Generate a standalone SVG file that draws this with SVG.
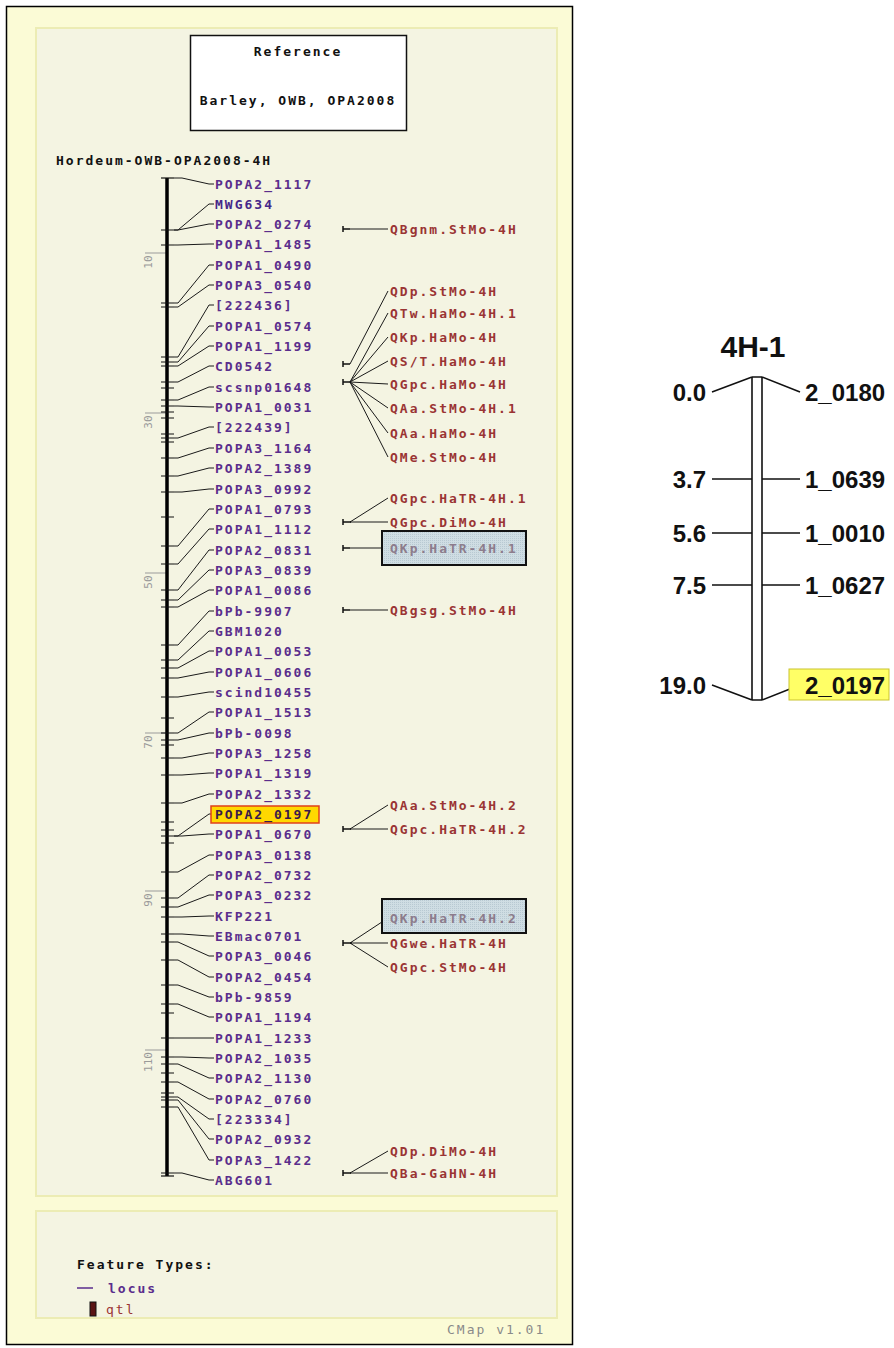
<svg xmlns="http://www.w3.org/2000/svg" width="894" height="1348" viewBox="0 0 894 1348">
<style>
.t{font-family:"DejaVu Sans Mono","Liberation Mono",monospace;font-size:13px;font-weight:bold;letter-spacing:2px}
.loc{fill:#5a2d8c}
.qtl{fill:#9a3434}
.blk{fill:#111}
.gry{fill:#8a8a8a;font-weight:normal}
.hl{fill:#8c7c8c}
.c{stroke:#1a1a1a;stroke-width:1;fill:none}
.tk{stroke:#111;stroke-width:1.2}
.sc{stroke:#9a9a9a;stroke-width:1}
.sct{font-family:"DejaVu Sans Mono",monospace;font-size:11px;fill:#9a9a9a}
.rl{font-family:"Liberation Sans",Arial,sans-serif;font-size:24px;font-weight:bold;fill:#111}
.rln{stroke:#111;stroke-width:1.6;fill:none}
</style>
<defs>
<pattern id="dither" width="2" height="2" patternUnits="userSpaceOnUse">
<rect width="2" height="2" fill="#cfdde3"/><rect width="1" height="1" fill="#b8c9d2"/>
</pattern>
</defs>
<rect x="0" y="0" width="894" height="1348" fill="#ffffff"/>
<!-- left panel -->
<g id="panel">
<rect x="6.5" y="6.5" width="566" height="1338" fill="#fbfbd6" stroke="#000" stroke-width="1.5"/>
<rect x="36" y="28" width="521" height="1168" fill="#f4f4e2" stroke="#ececb4" stroke-width="2"/>
<rect x="36" y="1211" width="521" height="107" fill="#f4f4e2" stroke="#ececb4" stroke-width="2"/>
</g>
<g id="reference-box">
<rect x="190.5" y="35.5" width="216" height="95" fill="#fff" stroke="#111" stroke-width="1.5"/>
<text class="t blk" x="298" y="56" text-anchor="middle">Reference</text>
<text class="t blk" x="298" y="105" text-anchor="middle">Barley, OWB, OPA2008</text>
</g>
<g id="map-title"><text class="t blk" x="56" y="165">Hordeum-OWB-OPA2008-4H</text></g>
<!-- scale -->
<g id="scale">
<line class="sc" x1="145" y1="253" x2="166" y2="253"/>
<line class="sc" x1="145" y1="413" x2="166" y2="413"/>
<line class="sc" x1="145" y1="573" x2="166" y2="573"/>
<line class="sc" x1="145" y1="733" x2="166" y2="733"/>
<line class="sc" x1="145" y1="891" x2="166" y2="891"/>
<line class="sc" x1="145" y1="1050" x2="166" y2="1050"/>
<text class="sct" transform="translate(152,262) rotate(-90)" text-anchor="middle">10</text>
<text class="sct" transform="translate(152,422) rotate(-90)" text-anchor="middle">30</text>
<text class="sct" transform="translate(152,582) rotate(-90)" text-anchor="middle">50</text>
<text class="sct" transform="translate(152,742) rotate(-90)" text-anchor="middle">70</text>
<text class="sct" transform="translate(152,900) rotate(-90)" text-anchor="middle">90</text>
<text class="sct" transform="translate(152,1062) rotate(-90)" text-anchor="middle">110</text>
</g>
<!-- chromosome bar -->
<g id="chromosome">
<line x1="167" y1="178" x2="167" y2="1176" stroke="#000" stroke-width="3.5"/>
<line class="tk" x1="161" y1="178" x2="174" y2="178"/>
<line class="tk" x1="161" y1="1176" x2="174" y2="1176"/>
<path class="tk" fill="none" d="M161,230H174M161,245H174M161,303H174M161,307H174M161,357H174M161,362H174M161,366H174M161,382H174M161,388H174M161,400H174M161,406H174M161,412H174M161,418H174M161,434H174M161,438H174M161,442H174M161,458H174M161,476H174M161,492H174M161,517H174M161,546H174M161,564H174M161,590H174M161,600H174M161,607H174M161,645H174M161,660H174M161,668H174M161,678H174M161,697H174M161,718H174M161,733H174M161,740H174M161,745H174M161,758H174M161,775H174M161,803H174M161,822H174M161,830H174M161,836H174M161,843H174M161,872H174M161,898H174M161,907H174M161,917H174M161,934H174M161,942H174M161,960H174M161,985H174M161,1004H174M161,1013H174M161,1038H174M161,1057H174M161,1064H174M161,1073H174M161,1082H174M161,1093H174M161,1097H174M161,1100H174M161,1107H174M161,1173H174"/>
</g>
<!-- connectors -->
<g id="connectors">
<path class="c" d="M174,178L182,178L209,184L214,184"/>
<path class="c" d="M174,230L178,230L209,204L214,204"/>
<path class="c" d="M174,230L178,230L209,224L214,224"/>
<path class="c" d="M174,245L178,245L209,244L214,244"/>
<path class="c" d="M174,303L178,303L209,265L214,265"/>
<path class="c" d="M174,307L178,307L209,285L214,285"/>
<path class="c" d="M174,357L178,357L209,305L214,305"/>
<path class="c" d="M174,362L178,362L209,326L214,326"/>
<path class="c" d="M174,366L178,366L209,346L214,346"/>
<path class="c" d="M174,382L178,382L209,366L214,366"/>
<path class="c" d="M174,400L178,400L209,387L214,387"/>
<path class="c" d="M174,406L178,406L209,407L214,407"/>
<path class="c" d="M174,438L178,438L209,427L214,427"/>
<path class="c" d="M174,458L178,458L209,448L214,448"/>
<path class="c" d="M174,476L178,476L209,468L214,468"/>
<path class="c" d="M174,492L182,492L209,489L214,489"/>
<path class="c" d="M174,546L178,546L209,509L214,509"/>
<path class="c" d="M174,564L178,564L209,529L214,529"/>
<path class="c" d="M174,590L178,590L209,550L214,550"/>
<path class="c" d="M174,600L178,600L209,570L214,570"/>
<path class="c" d="M174,607L178,607L209,590L214,590"/>
<path class="c" d="M174,645L178,645L209,611L214,611"/>
<path class="c" d="M174,660L178,660L209,631L214,631"/>
<path class="c" d="M174,668L178,668L209,651L214,651"/>
<path class="c" d="M174,678L178,678L209,672L214,672"/>
<path class="c" d="M174,697L178,697L209,692L214,692"/>
<path class="c" d="M174,733L178,733L209,712L214,712"/>
<path class="c" d="M174,740L178,740L209,733L214,733"/>
<path class="c" d="M174,758L182,758L209,753L214,753"/>
<path class="c" d="M174,775L182,775L209,773L214,773"/>
<path class="c" d="M174,803L182,803L209,794L214,794"/>
<path class="c" d="M174,836L178,836L209,814L214,814"/>
<path class="c" d="M174,836L182,836L209,834L214,834"/>
<path class="c" d="M174,872L178,872L209,855L214,855"/>
<path class="c" d="M174,898L178,898L209,875L214,875"/>
<path class="c" d="M174,907L178,907L209,895L214,895"/>
<path class="c" d="M174,917L182,917L209,916L214,916"/>
<path class="c" d="M174,934L182,934L209,936L214,936"/>
<path class="c" d="M174,942L178,942L209,956L214,956"/>
<path class="c" d="M174,960L178,960L209,977L214,977"/>
<path class="c" d="M174,985L178,985L209,997L214,997"/>
<path class="c" d="M174,1004L178,1004L209,1017L214,1017"/>
<path class="c" d="M174,1038L182,1038L209,1038L214,1038"/>
<path class="c" d="M174,1057L182,1057L209,1058L214,1058"/>
<path class="c" d="M174,1064L178,1064L209,1078L214,1078"/>
<path class="c" d="M174,1082L178,1082L209,1099L214,1099"/>
<path class="c" d="M174,1097L178,1097L209,1119L214,1119"/>
<path class="c" d="M174,1100L178,1100L209,1139L214,1139"/>
<path class="c" d="M174,1107L178,1107L209,1160L214,1160"/>
<path class="c" d="M174,1173L182,1173L209,1180L214,1180"/>
<!-- qtl connectors -->
<path class="c" d="M350,229L388,229"/>
<path class="c" d="M350,364L388,291"/>
<path class="c" d="M350,382L388,313"/>
<path class="c" d="M350,382L388,337"/>
<path class="c" d="M350,382L388,361"/>
<path class="c" d="M350,382L388,384"/>
<path class="c" d="M350,382L388,408"/>
<path class="c" d="M350,382L388,433"/>
<path class="c" d="M350,382L388,457"/>
<path class="c" d="M350,522L388,498"/>
<path class="c" d="M350,522L388,522"/>
<path class="c" d="M350,548L388,548"/>
<path class="c" d="M350,610L388,610"/>
<path class="c" d="M350,829L388,805"/>
<path class="c" d="M350,829L388,829"/>
<path class="c" d="M350,943L388,918"/>
<path class="c" d="M350,943L388,943"/>
<path class="c" d="M350,943L388,967"/>
<path class="c" d="M350,1173L388,1151"/>
<path class="c" d="M350,1173L388,1173"/>
<!-- qtl markers -->
<path stroke="#111" stroke-width="1.5" fill="none" d="M343,226v6M343,229H350M343,361v6M343,364H350M343,379v6M343,382H351M343,519v6M343,522H351M343,545v6M343,548H350M343,607v6M343,610H350M343,826v6M343,829H351M343,940v6M343,943H352M343,1170v6M343,1173H351"/>
</g>
<!-- loci -->
<g id="locus-POPA2_1117"><text class="t loc" x="215" y="189">POPA2_1117</text></g>
<g id="locus-MWG634"><text class="t" fill="#46278a" x="215" y="209">MWG634</text></g>
<g id="locus-POPA2_0274"><text class="t loc" x="215" y="229">POPA2_0274</text></g>
<g id="locus-POPA1_1485"><text class="t loc" x="215" y="249">POPA1_1485</text></g>
<g id="locus-POPA1_0490"><text class="t loc" x="215" y="270">POPA1_0490</text></g>
<g id="locus-POPA3_0540"><text class="t loc" x="215" y="290">POPA3_0540</text></g>
<g id="locus-222436"><text class="t loc" x="215" y="310">[222436]</text></g>
<g id="locus-POPA1_0574"><text class="t loc" x="215" y="331">POPA1_0574</text></g>
<g id="locus-POPA1_1199"><text class="t loc" x="215" y="351">POPA1_1199</text></g>
<g id="locus-CD0542"><text class="t loc" x="215" y="371">CD0542</text></g>
<g id="locus-scsnp01648"><text class="t loc" x="215" y="392">scsnp01648</text></g>
<g id="locus-POPA1_0031"><text class="t loc" x="215" y="412">POPA1_0031</text></g>
<g id="locus-222439"><text class="t loc" x="215" y="432">[222439]</text></g>
<g id="locus-POPA3_1164"><text class="t loc" x="215" y="453">POPA3_1164</text></g>
<g id="locus-POPA2_1389"><text class="t loc" x="215" y="473">POPA2_1389</text></g>
<g id="locus-POPA3_0992"><text class="t loc" x="215" y="494">POPA3_0992</text></g>
<g id="locus-POPA1_0793"><text class="t loc" x="215" y="514">POPA1_0793</text></g>
<g id="locus-POPA1_1112"><text class="t loc" x="215" y="534">POPA1_1112</text></g>
<g id="locus-POPA2_0831"><text class="t loc" x="215" y="555">POPA2_0831</text></g>
<g id="locus-POPA3_0839"><text class="t loc" x="215" y="575">POPA3_0839</text></g>
<g id="locus-POPA1_0086"><text class="t loc" x="215" y="595">POPA1_0086</text></g>
<g id="locus-bPb-9907"><text class="t loc" x="215" y="616">bPb-9907</text></g>
<g id="locus-GBM1020"><text class="t loc" x="215" y="636">GBM1020</text></g>
<g id="locus-POPA1_0053"><text class="t loc" x="215" y="656">POPA1_0053</text></g>
<g id="locus-POPA1_0606"><text class="t loc" x="215" y="677">POPA1_0606</text></g>
<g id="locus-scind10455"><text class="t loc" x="215" y="697">scind10455</text></g>
<g id="locus-POPA1_1513"><text class="t loc" x="215" y="717">POPA1_1513</text></g>
<g id="locus-bPb-0098"><text class="t loc" x="215" y="738">bPb-0098</text></g>
<g id="locus-POPA3_1258"><text class="t loc" x="215" y="758">POPA3_1258</text></g>
<g id="locus-POPA1_1319"><text class="t loc" x="215" y="778">POPA1_1319</text></g>
<g id="locus-POPA2_1332"><text class="t loc" x="215" y="799">POPA2_1332</text></g>
<g id="locus-POPA2_0197"><rect x="211" y="806" width="108" height="17" fill="#ffd800" stroke="#e0401a" stroke-width="1.5"/><text class="t" fill="#3a1a4a" x="215" y="819">POPA2_0197</text></g>
<g id="locus-POPA1_0670"><text class="t loc" x="215" y="839">POPA1_0670</text></g>
<g id="locus-POPA3_0138"><text class="t loc" x="215" y="860">POPA3_0138</text></g>
<g id="locus-POPA2_0732"><text class="t loc" x="215" y="880">POPA2_0732</text></g>
<g id="locus-POPA3_0232"><text class="t loc" x="215" y="900">POPA3_0232</text></g>
<g id="locus-KFP221"><text class="t loc" x="215" y="921">KFP221</text></g>
<g id="locus-EBmac0701"><text class="t loc" x="215" y="941">EBmac0701</text></g>
<g id="locus-POPA3_0046"><text class="t loc" x="215" y="961">POPA3_0046</text></g>
<g id="locus-POPA2_0454"><text class="t loc" x="215" y="982">POPA2_0454</text></g>
<g id="locus-bPb-9859"><text class="t loc" x="215" y="1002">bPb-9859</text></g>
<g id="locus-POPA1_1194"><text class="t loc" x="215" y="1022">POPA1_1194</text></g>
<g id="locus-POPA1_1233"><text class="t loc" x="215" y="1043">POPA1_1233</text></g>
<g id="locus-POPA2_1035"><text class="t loc" x="215" y="1063">POPA2_1035</text></g>
<g id="locus-POPA2_1130"><text class="t loc" x="215" y="1083">POPA2_1130</text></g>
<g id="locus-POPA2_0760"><text class="t loc" x="215" y="1104">POPA2_0760</text></g>
<g id="locus-223334"><text class="t loc" x="215" y="1124">[223334]</text></g>
<g id="locus-POPA2_0932"><text class="t loc" x="215" y="1144">POPA2_0932</text></g>
<g id="locus-POPA3_1422"><text class="t loc" x="215" y="1165">POPA3_1422</text></g>
<g id="locus-ABG601"><text class="t loc" x="215" y="1185">ABG601</text></g>
<!-- qtls -->
<g id="qtl-QBgnm.StMo-4H"><text class="t qtl" x="390" y="234">QBgnm.StMo-4H</text></g>
<g id="qtl-QDp.StMo-4H"><text class="t qtl" x="390" y="296">QDp.StMo-4H</text></g>
<g id="qtl-QTw.HaMo-4H.1"><text class="t qtl" x="390" y="318">QTw.HaMo-4H.1</text></g>
<g id="qtl-QKp.HaMo-4H"><text class="t qtl" x="390" y="342">QKp.HaMo-4H</text></g>
<g id="qtl-QS-T.HaMo-4H"><text class="t qtl" x="390" y="366">QS/T.HaMo-4H</text></g>
<g id="qtl-QGpc.HaMo-4H"><text class="t qtl" x="390" y="389">QGpc.HaMo-4H</text></g>
<g id="qtl-QAa.StMo-4H.1"><text class="t qtl" x="390" y="413">QAa.StMo-4H.1</text></g>
<g id="qtl-QAa.HaMo-4H"><text class="t qtl" x="390" y="438">QAa.HaMo-4H</text></g>
<g id="qtl-QMe.StMo-4H"><text class="t qtl" x="390" y="462">QMe.StMo-4H</text></g>
<g id="qtl-QGpc.HaTR-4H.1"><text class="t qtl" x="390" y="503">QGpc.HaTR-4H.1</text></g>
<g id="qtl-QGpc.DiMo-4H"><text class="t qtl" x="390" y="527">QGpc.DiMo-4H</text></g>
<g id="qtl-QKp.HaTR-4H.1"><rect x="382" y="531" width="144" height="34" fill="url(#dither)" stroke="#111" stroke-width="2"/><text class="t hl" x="390" y="553">QKp.HaTR-4H.1</text></g>
<g id="qtl-QBgsg.StMo-4H"><text class="t qtl" x="390" y="615">QBgsg.StMo-4H</text></g>
<g id="qtl-QAa.StMo-4H.2"><text class="t qtl" x="390" y="810">QAa.StMo-4H.2</text></g>
<g id="qtl-QGpc.HaTR-4H.2"><text class="t qtl" x="390" y="834">QGpc.HaTR-4H.2</text></g>
<g id="qtl-QKp.HaTR-4H.2"><rect x="382" y="899" width="144" height="34" fill="url(#dither)" stroke="#111" stroke-width="2"/><text class="t hl" x="390" y="923">QKp.HaTR-4H.2</text></g>
<g id="qtl-QGwe.HaTR-4H"><text class="t qtl" x="390" y="948">QGwe.HaTR-4H</text></g>
<g id="qtl-QGpc.StMo-4H"><text class="t qtl" x="390" y="972">QGpc.StMo-4H</text></g>
<g id="qtl-QDp.DiMo-4H"><text class="t qtl" x="390" y="1156">QDp.DiMo-4H</text></g>
<g id="qtl-QBa-GaHN-4H"><text class="t qtl" x="390" y="1178">QBa-GaHN-4H</text></g>
<!-- legend -->
<g id="legend">
<text class="t blk" x="77" y="1269">Feature Types:</text>
<line x1="77" y1="1288" x2="93" y2="1288" stroke="#5a2d8c" stroke-width="1.5"/>
<text class="t loc" x="108" y="1293">locus</text>
<rect x="90" y="1302" width="6" height="14" fill="#5a1414" stroke="#111" stroke-width="1"/>
<text class="t qtl" x="106" y="1314" style="font-weight:normal">qtl</text>
<text class="t gry" x="447" y="1334">CMap v1.01</text>
</g>
<!-- right panel -->
<g id="lg-title"><text x="753" y="357" text-anchor="middle" font-family="'Liberation Sans',Arial,sans-serif" font-size="30" font-weight="bold" fill="#111">4H-1</text></g>
<g id="lg-chromosome">
<path class="rln" d="M752,377V700M762,377V700M752,377H762M752,700H762"/>
</g>
<g id="lg-connectors">
<path class="rln" d="M712,392L752,377M762,377L800,392"/>
<path class="rln" d="M712,479H752M762,479H800"/>
<path class="rln" d="M712,533H752M762,533H800"/>
<path class="rln" d="M712,585H752M762,585H800"/>
<path class="rln" d="M712,685L752,700M762,700L800,685"/>
</g>
<g id="lg-0.0"><text class="rl" x="706" y="401" text-anchor="end">0.0</text><text class="rl" x="805" y="401">2_0180</text></g>
<g id="lg-3.7"><text class="rl" x="706" y="488" text-anchor="end">3.7</text><text class="rl" x="805" y="488">1_0639</text></g>
<g id="lg-5.6"><text class="rl" x="706" y="542" text-anchor="end">5.6</text><text class="rl" x="805" y="542">1_0010</text></g>
<g id="lg-7.5"><text class="rl" x="706" y="594" text-anchor="end">7.5</text><text class="rl" x="805" y="594">1_0627</text></g>
<g id="lg-19.0"><text class="rl" x="706" y="694" text-anchor="end">19.0</text><rect x="789" y="669" width="100" height="31" fill="#ffff66" stroke="#c9c330" stroke-width="1"/><text class="rl" x="805" y="694">2_0197</text></g>
</svg>
